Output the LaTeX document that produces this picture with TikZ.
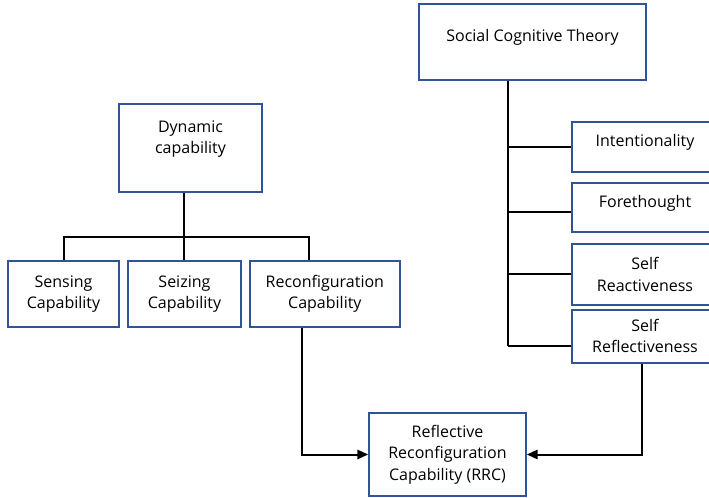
\documentclass[tikz,border=0pt]{standalone}
\usepackage{fontspec}
\setmainfont{Open Sans}
\usetikzlibrary{arrows.meta, positioning}

\definecolor{boxblue}{RGB}{47,85,151}

\begin{document}
\begin{tikzpicture}[x=0.75pt, y=-0.75pt, >={Triangle[length=8pt, width=7pt]},
    box/.style={rectangle, draw=boxblue, line width=1.4pt, fill=white, align=center,
                font=\fontsize{12}{16}\selectfont, inner sep=2pt},
    onebox/.style={box, text height=5pt, text depth=5pt},
    link/.style={draw=black, line width=1.5pt}]

    \useasboundingbox (0,0) rectangle (709,498);
    \clip (0,0) rectangle (709,498);

    % dynamic capability side
    \node[box, minimum width=107.25pt, minimum height=66pt] (dyn) at (190.5,148)
        {Dynamic\\capability\\\mbox{}};
    \node[box, minimum width=83.25pt, minimum height=49.5pt] (sense) at (63.5,294)
        {Sensing\\Capability};
    \node[box, minimum width=84.75pt, minimum height=49.5pt, right=5.3pt of sense] (seize)
        {Seizing\\Capability};
    \node[box, minimum width=112.5pt, minimum height=49.5pt, right=5.3pt of seize] (reconf)
        {Reconfiguration\\Capability};

    % social cognitive theory side
    \node[onebox, minimum width=170.25pt, minimum height=57pt] (sct) at (532.5,42)
        {Social Cognitive Theory};
    \node[onebox, minimum width=109.5pt, minimum height=37.5pt] (intent) at (645,147)
        {Intentionality};
    \node[onebox, minimum width=109.5pt, minimum height=36.75pt, below=6.8pt of intent] (fore)
        {Forethought};
    \node[box, minimum width=109.5pt, minimum height=45.75pt, below=7.5pt of fore] (react)
        {Self\\Reactiveness};
    \node[box, minimum width=109.5pt, minimum height=39.75pt, below=2.3pt of react] (reflect)
        {Self\\Reflectiveness};

    % outcome
    \node[box, minimum width=117.75pt, minimum height=62.25pt] (rrc) at (447.5,454.5)
        {Reflective\\Reconfiguration\\Capability (RRC)};

    % tree under dynamic capability
    \coordinate (bar) at (0,237);
    \coordinate (drop) at ([xshift=-12pt]reconf.north);
    \draw[link] (dyn.south -| seize.north) -- (seize.north);
    \draw[link] (sense.north) |- (bar -| drop) -- (drop);

    % trunk under social cognitive theory
    \coordinate (trunk) at (508,346);
    \draw[link] (sct.south -| trunk) -- (trunk);
    \draw[link] (trunk |- intent.west) -- (intent.west);
    \draw[link] (trunk |- 0,212) -- (fore.west |- 0,212);
    \draw[link] (trunk |- react.west) -- (react.west);
    \draw[link] (trunk) -- (reflect.west |- trunk);

    % arrows into RRC
    \draw[link, ->] ([xshift=-17.25pt]reconf.south) |- (rrc.west);
    \draw[link, ->] ([xshift=-2.25pt]reflect.south) |- (rrc.east);
\end{tikzpicture}
\end{document}
